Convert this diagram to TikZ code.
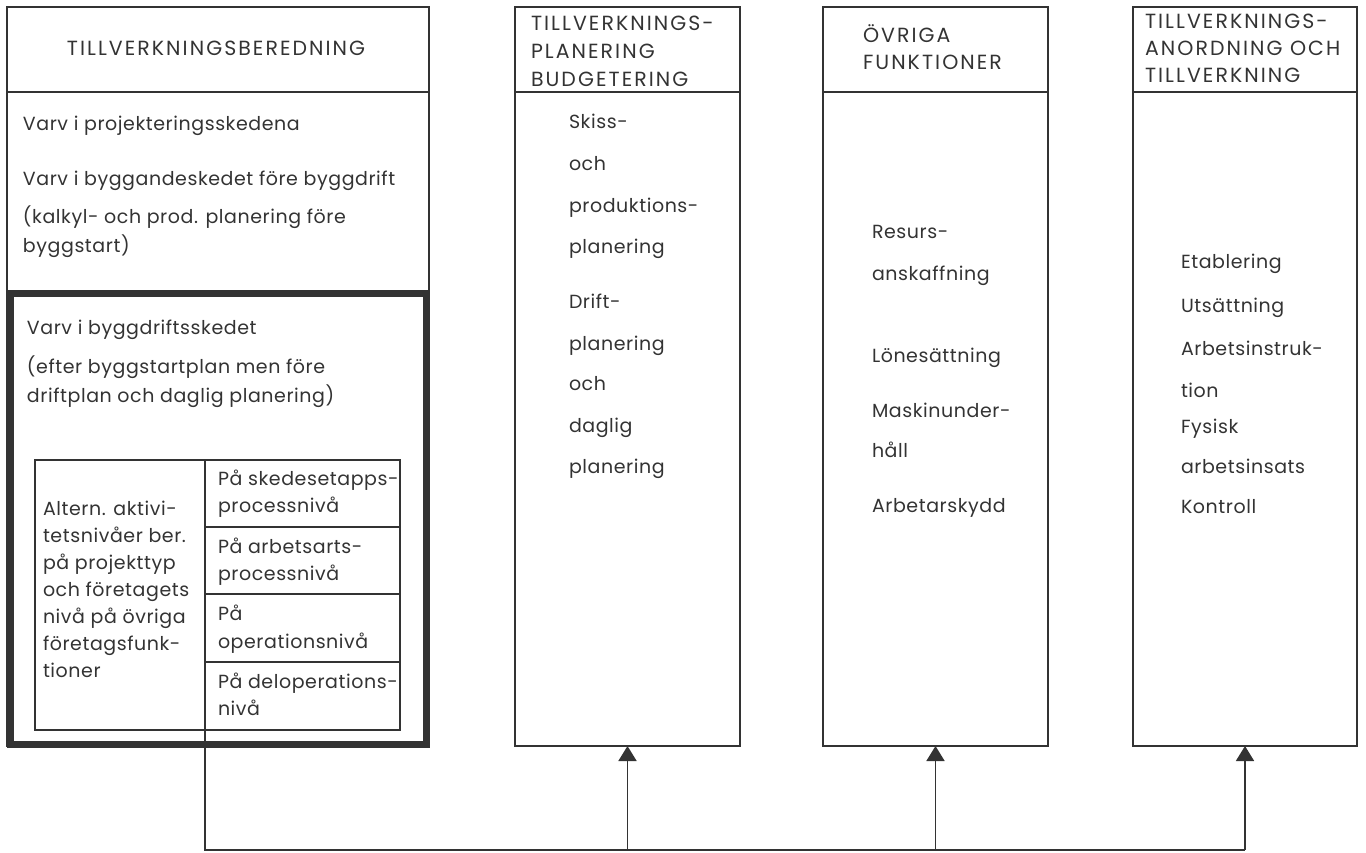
\documentclass[tikz,border=0pt]{standalone}
\usepackage{fontspec}
\setmainfont{Poppins}[LetterSpace=3]
\newfontfamily\hdfont{Poppins}[LetterSpace=10]
\usetikzlibrary{arrows.meta}
\definecolor{ink}{HTML}{333333}
\begin{document}
\begin{tikzpicture}[x=1pt,y=-1pt,
  every node/.style={inner sep=0pt, outer sep=0pt},
  colbox/.style={draw=ink, line width=1.8pt, anchor=north west, minimum height=739pt},
  rule/.style={draw=ink, line width=1.8pt},
  txt/.style={anchor=base west, text=ink, font=\fontsize{19}{22}\selectfont},
  htxt/.style={anchor=base west, text=ink, font=\hdfont\fontsize{20.5}{24}\selectfont},
  link/.style={draw=ink, line width=1.8pt},
  up/.style={link, -{Triangle[length=15pt,width=18pt]}}]
\useasboundingbox (0,0) rectangle (1366,852);

% --- column frames ---
\node[colbox, minimum width=422pt] (c1) at (7,7) {};
\node[colbox, minimum width=225pt] (c2) at (515,7) {};
\node[colbox, minimum width=225pt] (c3) at (823,7) {};
\node[colbox, minimum width=224pt] (c4) at (1133,7) {};
\foreach \xa/\xb in {7/429, 515/740, 823/1048, 1133/1357}
  \draw[rule] (\xa,92) -- (\xb,92);

% --- heavy frame for the construction-phase block ---
\node[draw=ink, line width=7pt, anchor=north west, minimum width=416pt, minimum height=451pt] (bold) at (10.5,293.5) {};

% --- inner table ---
\node[draw=ink, line width=1.8pt, anchor=north west, minimum width=365pt, minimum height=270pt] (tab) at (35,460) {};
\draw[rule] (205,460) -- (205,730);
\foreach \yy in {527,594,662} \draw[rule] (205,\yy) -- (400,\yy);

% --- headers ---
\node[htxt, anchor=base] (h1) at (216,55) {TILLVERKNINGSBEREDNING};
\foreach \t/\yy [count=\i] in {TILLVERKNINGS-/30, PLANERING/58, BUDGETERING/86}
  \node[htxt] (h2\i) at (531,\yy) {\t};
\foreach \t/\yy [count=\i] in {ÖVRIGA/42, FUNKTIONER/69}
  \node[htxt] (h3\i) at (863,\yy) {\t};
\foreach \t/\yy [count=\i] in {TILLVERKNINGS-/28, ANORDNING OCH/55, TILLVERKNING/82}
  \node[htxt] (h4\i) at (1145,\yy) {\t};

% --- left column body ---
\foreach \t/\yy [count=\i] in {{Varv i projekteringsskedena}/130,
    {Varv i byggandeskedet före byggdrift}/185,
    {(kalkyl- och prod. planering före}/223,
    {byggstart)}/252}
  \node[txt] (a\i) at (23,\yy) {\t};
\foreach \t/\yy [count=\i] in {{Varv i byggdriftsskedet}/334,
    {(efter byggstartplan men före}/373,
    {driftplan och daglig planering)}/402}
  \node[txt] (d\i) at (27,\yy) {\t};
\foreach \t/\yy [count=\i] in {Altern. aktivi-/515, tetsnivåer ber./542,
    på projekttyp/569, och företagets/596, nivå på övriga/623,
    företagsfunk-/650, tioner/677}
  \node[txt] (l\i) at (43,\yy) {\t};
\foreach \t/\yy [count=\i] in {På skedesetapps-/485, processnivå/512,
    På arbetsarts-/553, processnivå/580, På/620, operationsnivå/648,
    På deloperations-/688, nivå/715}
  \node[txt] (r\i) at (218,\yy) {\t};

% --- column 2 body ---
\foreach \t/\yy [count=\i] in {Skiss-/128, och/170, produktions-/212, planering/253,
    Drift-/308, planering/350, och/390, daglig/432, planering/473}
  \node[txt] (p\i) at (569,\yy) {\t};

% --- column 3 body ---
\foreach \t/\yy [count=\i] in {Resurs-/238, anskaffning/280, Lönesättning/362,
    Maskinunder-/417, håll/457, Arbetarskydd/512}
  \node[txt] (o\i) at (872,\yy) {\t};

% --- column 4 body ---
\foreach \t/\yy [count=\i] in {Etablering/268, Utsättning/312, Arbetsinstruk-/355,
    tion/397, Fysisk/433, arbetsinsats/473, Kontroll/513}
  \node[txt] (m\i) at (1181,\yy) {\t};

% --- connectors ---
\coordinate (split) at (205,730);
\coordinate (base) at (205,850);
\draw[link] (split) -- (base) -- (c4.south |- base);
\draw[up] (c2.south |- base) -- (c2.south);
\draw[up] (c3.south |- base) -- (c3.south);
\draw[up] (c4.south |- base) -- (c4.south);
\end{tikzpicture}
\end{document}
